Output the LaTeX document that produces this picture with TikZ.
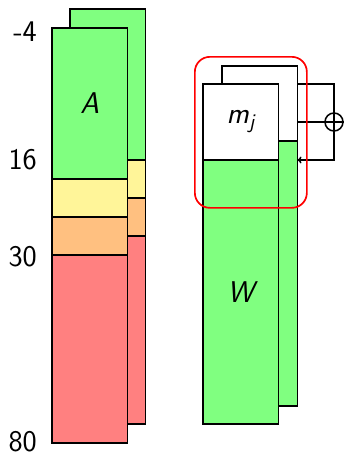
\documentclass[tikz,border=0pt]{standalone}
\usepackage{fontspec}
\usetikzlibrary{arrows.meta}
\definecolor{cgreen}{RGB}{128,255,128}
\definecolor{cyellow}{RGB}{255,245,153}
\definecolor{corange}{RGB}{255,192,128}
\definecolor{cred}{RGB}{255,128,128}
\begin{document}
\begin{tikzpicture}[x=1pt,y=-1pt,
  font=\sffamily\fontsize{30}{34}\selectfont,
  blk/.style={draw, line width=1.6pt, inner sep=0pt, outer sep=0pt,
    anchor=north west, minimum width=75.5pt},
  lbl/.style={anchor=east, inner sep=0pt},
  wire/.style={line width=1.5pt},
  sel/.style={draw=red, line width=1.7pt, rounded corners=15pt, inner sep=0pt,
    anchor=north west}]
\useasboundingbox (0,0) rectangle (344,455);

% left stack, rear copy
\node[blk, fill=cgreen,  minimum height=151pt] (ab) at (70,9)   {};
\node[blk, fill=cyellow, minimum height=38pt]  (yb) at (70,160) {};
\node[blk, fill=corange, minimum height=38pt]  (ob) at (70,198) {};
\node[blk, fill=cred,    minimum height=188pt] (rb) at (70,236) {};
% left stack, front copy
\node[blk, fill=cgreen,  minimum height=151pt] (af) at (52,28)  {\itshape A};
\node[blk, fill=cyellow, minimum height=38pt]  (yf) at (52,179) {};
\node[blk, fill=corange, minimum height=38pt]  (of) at (52,217) {};
\node[blk, fill=cred,    minimum height=188pt] (rf) at (52,255) {};

% scale labels
\node[lbl] (l1) at (37,32)  {-4};
\node[lbl] (l2) at (37,160) {16};
\node[lbl] (l3) at (37,257) {30};
\node[lbl] (l4) at (37,442) {80};

% right stack, rear copy
\node[blk, fill=white,  minimum height=75pt]  (mb) at (222,66)  {};
\node[blk, fill=cgreen, minimum height=265pt] (wb) at (222,141) {};
% right stack, front copy
\node[blk, fill=white,  minimum height=76pt]  (mf) at (203,84)  {\itshape m\textsubscript{j}};
\node[blk, fill=cgreen, minimum height=264pt] (wf) at (203,160) {\itshape W};

% xor feedback
\node[draw, circle, line width=1.5pt, minimum size=18pt, inner sep=0pt] (xor) at (334,122) {};
\draw[wire] (xor.north) -- (xor.south) (xor.west) -- (xor.east);
\draw[wire] (mf.north -| mb.east) -| (xor.north);
\draw[wire] (xor.west -| mb.east) -- (xor.west);
\draw[wire, -{To[length=4pt,width=7pt]}] (xor.south) |- (wf.north -| mb.east);

% highlighted region
\node[sel, minimum width=112pt, minimum height=151pt] (hl) at (194,56) {};
\end{tikzpicture}
\end{document}
